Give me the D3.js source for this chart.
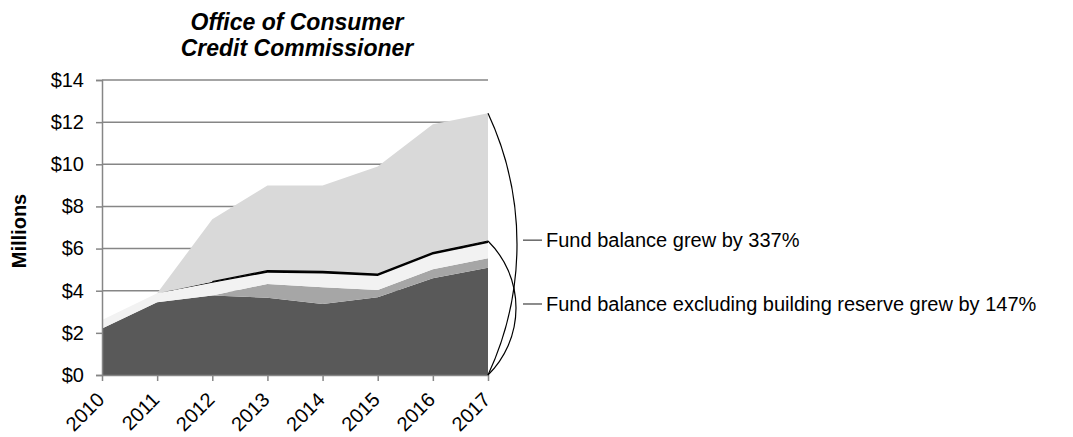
<!DOCTYPE html>
<html>
<head>
<meta charset="utf-8">
<script src="https://cdn.jsdelivr.net/npm/d3@7"></script>
<style>
  html, body { margin: 0; padding: 0; background: #fff; }
  svg { display: block; font-family: Arial, "Liberation Sans", sans-serif; }
</style>
</head>
<body>
<svg id="chart" width="1073" height="437"></svg>
<script>
// ---- data (millions of dollars) ----
const years = ["2010", "2011", "2012", "2013", "2014", "2015", "2016", "2017"];
const operatingBalance = [2.21, 3.45, 3.77, 3.67, 3.37, 3.69, 4.59, 5.09];
const reserveA = [0, 0, 0, 0.65, 0.79, 0.34, 0.43, 0.45];
const reserveB = [0.40, 0.43, 0.61, 0.53, 0.66, 0.67, 0.70, 0.73];
const otherReserve = [0, 0, 0.05, 0.10, 0.10, 0.09, 0.09, 0.09];
const buildingReserve = [0, 0, 2.96, 4.04, 4.07, 5.10, 6.09, 6.06];
const yTickValues = [0, 2, 4, 6, 8, 10, 12, 14];
const titleLines = ["Office of Consumer", "Credit Commissioner"];
const yAxisTitle = "Millions";
const noteTotal = "Fund balance grew by 337%";
const noteExcl = "Fund balance excluding building reserve grew by 147%";

(function () {
const keys = ["operating", "reserveA", "reserveB", "other", "building"];
const colors = {operating: "#595959", reserveA: "#a6a6a6", reserveB: "#f2f2f2", other: "#000000", building: "#d9d9d9"};
const table = years.map((yr, i) => ({
  year: yr, i,
  operating: operatingBalance[i], reserveA: reserveA[i], reserveB: reserveB[i],
  other: otherReserve[i], building: buildingReserve[i]
}));

const svg = d3.select("#chart");
const mLeft = 102, mRight = 488, mTop = 80, mBottom = 375;

const x = d3.scalePoint().domain(years).range([mLeft, mRight]);
const y = d3.scaleLinear().domain([0, 14]).range([mBottom, mTop]);

const gridColor = "#868686";

// gridlines
svg.append("g").selectAll("line").data(yTickValues.filter(v => v > 0)).join("line")
  .attr("x1", mLeft).attr("x2", mRight)
  .attr("y1", d => y(d)).attr("y2", d => y(d))
  .attr("stroke", gridColor).attr("stroke-width", 1.5);

// stacked areas
const stack = d3.stack().keys(keys);
const series = stack(table);
const area = d3.area()
  .x(d => x(d.data.year))
  .y0(d => y(d[0]))
  .y1(d => y(d[1]));
svg.append("g").selectAll("path").data(series).join("path")
  .attr("d", area)
  .attr("fill", d => colors[d.key]);

// black line on top of the "excluding building reserve" total
const exclTop = series[3];
svg.append("path").datum(exclTop)
  .attr("d", d3.line().x(d => x(d.data.year)).y(d => y(d[1])).defined(d => d.data.i >= 2))
  .attr("fill", "none").attr("stroke", "#000").attr("stroke-width", 1.2);

// y axis
const yAxis = d3.axisLeft(y).tickValues(yTickValues).tickFormat(d => "$" + d).tickSize(6).tickPadding(12);
const gy = svg.append("g").attr("transform", `translate(${mLeft},0)`).call(yAxis);
gy.select(".domain").attr("stroke", gridColor).attr("stroke-width", 1.5);
gy.selectAll(".tick line").attr("stroke", gridColor).attr("stroke-width", 1.5);
gy.selectAll(".tick text").attr("font-size", 20).attr("fill", "#000").attr("font-family", "Arial, 'Liberation Sans', sans-serif");

// x axis
const xAxis = d3.axisBottom(x).tickSize(6).tickSizeOuter(0);
const gx = svg.append("g").attr("transform", `translate(0,${mBottom})`).call(xAxis);
gx.select(".domain").attr("stroke", gridColor).attr("stroke-width", 1.5);
gx.selectAll(".tick line").attr("stroke", gridColor).attr("stroke-width", 1.5);
gx.selectAll(".tick text")
  .attr("font-size", 20).attr("fill", "#000").attr("font-family", "Arial, 'Liberation Sans', sans-serif")
  .attr("text-anchor", "end")
  .attr("dy", null)
  .attr("y", 0)
  .attr("transform", "translate(3,26) rotate(-45)");

// title
svg.append("text")
  .attr("x", 297).attr("y", 30)
  .attr("text-anchor", "middle")
  .attr("font-size", 23).attr("font-weight", "bold").attr("font-style", "italic")
  .selectAll("tspan").data(titleLines).join("tspan")
  .attr("x", 297).attr("dy", (d, i) => i === 0 ? 0 : 25.5)
  .text(d => d);

// y axis title
svg.append("text")
  .attr("transform", "translate(26,231) rotate(-90)")
  .attr("text-anchor", "middle")
  .attr("font-size", 20).attr("font-weight", "bold")
  .text(yAxisTitle);

// brackets + notes
const n = table.length - 1;
const xe = x(years[n]);
const totalTop = series[series.length - 1][n][1];
const exclTopVal = series[3][n][1];
function bracket(y1, y2, sag) {
  const h = (y2 - y1) / 2;
  const r = (h * h + sag * sag) / (2 * sag);
  return `M${xe},${y1} A${r},${r} 0 0 1 ${xe},${y2}`;
}
const notes = [
  {y1: y(totalTop), y2: y(0), sag: 29, text: noteTotal},
  {y1: y(exclTopVal), y2: y(0), sag: 28, text: noteExcl}
];
const ng = svg.append("g");
notes.forEach(nt => {
  ng.append("path").attr("d", bracket(nt.y1, nt.y2, nt.sag))
    .attr("fill", "none").attr("stroke", "#000").attr("stroke-width", 1.2);
  const ym = (nt.y1 + nt.y2) / 2 - 4;
  ng.append("line").attr("x1", xe + 35).attr("x2", xe + 54).attr("y1", ym).attr("y2", ym)
    .attr("stroke", "#404040").attr("stroke-width", 1.2);
  ng.append("text").attr("x", xe + 58).attr("y", ym).attr("dy", "0.35em")
    .attr("font-size", 20).attr("fill", "#000").text(nt.text);
});
})();
</script>
</body>
</html>
